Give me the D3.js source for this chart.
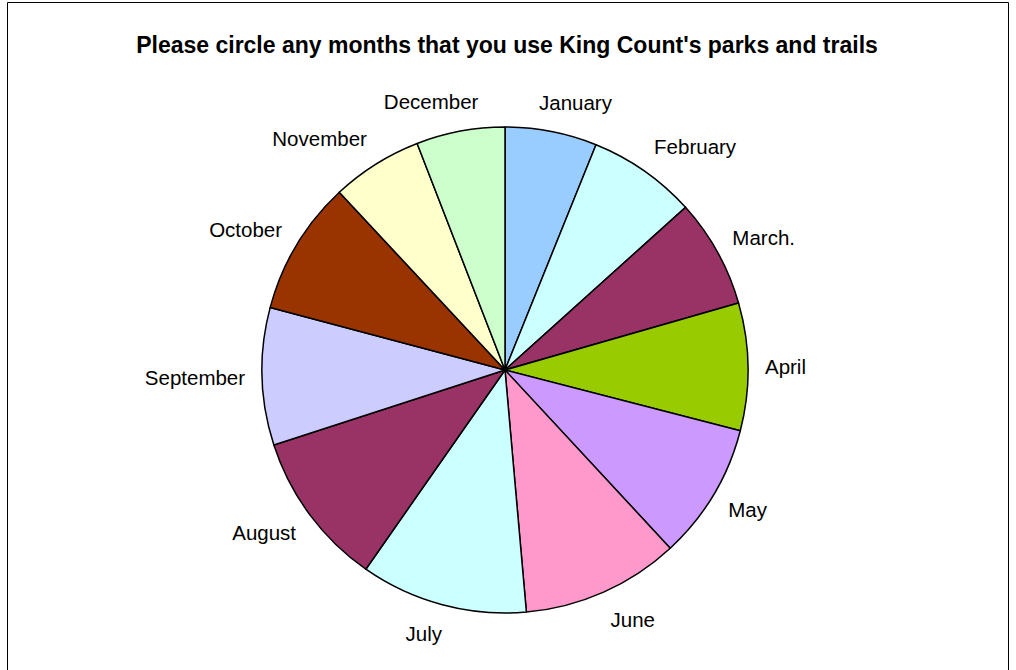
<!DOCTYPE html>
<html>
<head>
<meta charset="utf-8">
<script src="https://cdn.jsdelivr.net/npm/d3@7"></script>
<style>
  body { margin: 0; background: #fff; }
  svg text { font-family: Arial, "Liberation Sans", sans-serif; }
</style>
</head>
<body>
<div id="chart"></div>
<script>
// Park / trail use by month
var months = ["January", "February", "March.", "April", "May", "June",
              "July", "August", "September", "October", "November", "December"];
var counts = [220, 260, 260, 305, 327, 378, 400, 371, 329, 321, 218, 212];
var colors = ["#99ccff", "#ccffff", "#993366", "#99cc00", "#cc99ff", "#ff99cc",
              "#ccffff", "#993366", "#ccccff", "#993300", "#ffffcc", "#ccffcc"];
var title = "Please circle any months that you use King Count's parks and trails";

var svgWidth = 1016, svgHeight = 670;
var cx = 505, cy = 370, radius = 243;

var svg = d3.select("#chart")
  .append("svg")
  .attr("width", svgWidth)
  .attr("height", svgHeight);

// chart frame
svg.append("path")
  .attr("d", "M7.5,670 V2.5 H1008.5 V670")
  .attr("fill", "none")
  .attr("stroke", "#000")
  .attr("stroke-width", 1);

svg.append("text")
  .attr("x", 507)
  .attr("y", 53)
  .attr("text-anchor", "middle")
  .attr("font-size", "23px")
  .attr("font-weight", "bold")
  .text(title);

var pie = d3.pie().sort(null).value(d => d);
var arcs = pie(counts);

var arc = d3.arc().innerRadius(0).outerRadius(radius);

var pieGroup = svg.append("g")
  .attr("transform", `translate(${cx}, ${cy})`);

pieGroup.selectAll("path")
  .data(arcs)
  .enter()
  .append("path")
  .attr("d", arc)
  .attr("fill", (d, i) => colors[i])
  .attr("stroke", "#000")
  .attr("stroke-width", 1.5)
  .attr("stroke-linejoin", "round");

// labels: pushed out from the pie edge by part of their own size
var labelR = 260;
var labels = pieGroup.selectAll("text.lbl")
  .data(arcs)
  .enter()
  .append("text")
  .attr("class", "lbl")
  .attr("font-size", "20.5px")
  .attr("text-anchor", "middle")
  .attr("dominant-baseline", "central")
  .text((d, i) => months[i]);

labels.each(function(d) {
  var a = (d.startAngle + d.endAngle) / 2;
  var s = Math.sin(a), c = Math.cos(a);
  var w = this.getComputedTextLength(), h = 26;
  var fx = Math.sign(s) * Math.min(1, Math.abs(s) * 3);
  var fy = -c;
  var x = labelR * s + fx * w / 2;
  var y = -labelR * c + fy * h / 2;
  d3.select(this).attr("x", x).attr("y", y);
});
</script>
</body>
</html>
